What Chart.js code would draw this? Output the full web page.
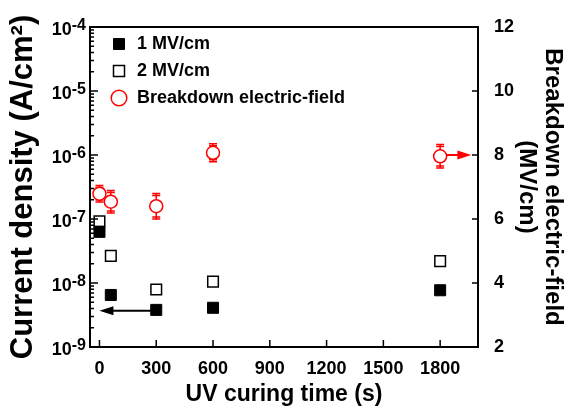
<!DOCTYPE html>
<html>
<head>
<meta charset="utf-8">
<script src="https://cdn.jsdelivr.net/npm/chart.js@4/dist/chart.umd.min.js"></script>
<style>
html, body { margin: 0; padding: 0; background: #fff; }
#wrap { width: 569px; height: 412px; }
</style>
</head>
<body>
<div id="wrap"><canvas id="myChart"></canvas></div>
<script>
// UV curing time (s)
const cureTime = [0, 60, 300, 600, 1800];
// leakage current density (A/cm2) at two fields
const j1MV = [6.3e-8, 6.5e-9, 3.8e-9, 4.1e-9, 7.7e-9];
const j2MV = [9.2e-8, 2.65e-8, 7.9e-9, 1.05e-8, 2.2e-8];
// breakdown field (MV/cm) and its spread
const bdField = [6.79, 6.54, 6.40, 8.07, 7.96];
const bdErr = [0.26, 0.35, 0.40, 0.28, 0.37];

// tick labels
const timeTicks = [0, 300, 600, 900, 1200, 1500, 1800];
const jExponents = [-9, -8, -7, -6, -5, -4];
const fieldTicks = [2, 4, 6, 8, 10, 12];

// arrows pointing each series to its axis
const arrows = [
  {axis: 'y', y: 3.7e-9, from: 300, to: 0, color: '#000'},
  {axis: 'y2', y: 8.0, from: 1800, to: 1965, color: '#ff0000'}
];

const FONT = '"Liberation Sans", Arial, sans-serif';
Chart.defaults.font.family = FONT;
Chart.defaults.color = '#000';

function pts(ys) {
  return cureTime.map((t, i) => ({x: t, y: ys[i]}));
}

function drawArrow(ctx, x0, x1, y, color) {
  const dir = x1 > x0 ? 1 : -1;
  ctx.strokeStyle = color;
  ctx.fillStyle = color;
  ctx.lineWidth = 2;
  ctx.beginPath();
  ctx.moveTo(x0, y);
  ctx.lineTo(x1 - dir * 10, y);
  ctx.stroke();
  ctx.beginPath();
  ctx.moveTo(x1, y);
  ctx.lineTo(x1 - dir * 14, y - 4.5);
  ctx.lineTo(x1 - dir * 14, y + 4.5);
  ctx.closePath();
  ctx.fill();
}

const axisPlugin = {
  id: 'axisFrame',
  afterLayout(chart) {
    // move the in-plot legend inside the frame
    chart.legend.left += 11;
    chart.legend.top += 26;
  },
  beforeDatasetsDraw(chart) {
    const {ctx, scales} = chart;
    ctx.save();
    // error bars of breakdown field
    ctx.strokeStyle = '#ff0000';
    ctx.lineWidth = 1.5;
    cureTime.forEach((t, i) => {
      const x = scales.x.getPixelForValue(t);
      const yt = scales.y2.getPixelForValue(bdField[i] + bdErr[i]);
      const yb = scales.y2.getPixelForValue(bdField[i] - bdErr[i]);
      ctx.beginPath();
      ctx.moveTo(x, yt); ctx.lineTo(x, yb);
      ctx.moveTo(x - 4, yt); ctx.lineTo(x + 4, yt);
      ctx.moveTo(x - 4, yt + 2); ctx.lineTo(x + 4, yt + 2);
      ctx.moveTo(x - 4, yb); ctx.lineTo(x + 4, yb);
      ctx.moveTo(x - 4, yb - 2); ctx.lineTo(x + 4, yb - 2);
      ctx.stroke();
    });
    arrows.forEach(a => {
      const y = scales[a.axis].getPixelForValue(a.y);
      drawArrow(ctx, scales.x.getPixelForValue(a.from), scales.x.getPixelForValue(a.to), y, a.color);
    });
    ctx.restore();
  },
  afterDraw(chart) {
    const {ctx, chartArea: ca, scales} = chart;
    ctx.save();
    ctx.strokeStyle = '#000';
    ctx.lineWidth = 2;
    ctx.strokeRect(ca.left, ca.top, ca.right - ca.left, ca.bottom - ca.top);

    ctx.lineWidth = 1.5;
    ctx.beginPath();
    // x ticks, inward
    timeTicks.forEach(v => {
      const x = scales.x.getPixelForValue(v);
      ctx.moveTo(x, ca.bottom); ctx.lineTo(x, ca.bottom - 7);
    });
    // right ticks, inward
    fieldTicks.forEach(v => {
      const y = scales.y2.getPixelForValue(v);
      ctx.moveTo(ca.right, y); ctx.lineTo(ca.right - 6, y);
    });
    // log ticks, major + minor
    jExponents.forEach(e => {
      const y = scales.y.getPixelForValue(Math.pow(10, e));
      ctx.moveTo(ca.left, y); ctx.lineTo(ca.left + 8, y);
      if (e < -4) {
        for (let m = 2; m <= 9; m++) {
          const ym = scales.y.getPixelForValue(m * Math.pow(10, e));
          ctx.moveTo(ca.left, ym); ctx.lineTo(ca.left + 4, ym);
        }
      }
    });
    ctx.stroke();

    // 10^n labels on the log axis
    ctx.fillStyle = '#000';
    ctx.textBaseline = 'alphabetic';
    ctx.textAlign = 'left';
    jExponents.forEach(e => {
      const y = scales.y.getPixelForValue(Math.pow(10, e));
      const sup = String(e);
      ctx.font = 'bold 18px ' + FONT;
      const wb = ctx.measureText('10').width;
      ctx.font = 'bold 16px ' + FONT;
      const ws = ctx.measureText(sup).width;
      const x0 = ca.left - 4 - wb - ws;
      ctx.font = 'bold 18px ' + FONT;
      ctx.fillText('10', x0, y + 8);
      ctx.font = 'bold 16px ' + FONT;
      ctx.fillText(sup, x0 + wb, y + 3);
    });
    ctx.restore();
  }
};

const ctx = document.getElementById('myChart').getContext('2d');
const chart = new Chart(ctx, {
  type: 'scatter',
  data: {
    datasets: [{
      label: '1 MV/cm',
      data: pts(j1MV),
      yAxisID: 'y',
      pointStyle: 'rect',
      pointRadius: 7.8,
      backgroundColor: '#000',
      borderColor: '#000',
      borderWidth: 1
    }, {
      label: '2 MV/cm',
      data: pts(j2MV),
      yAxisID: 'y',
      pointStyle: 'rect',
      pointRadius: 7.5,
      backgroundColor: '#fff',
      borderColor: '#000',
      borderWidth: 1.5
    }, {
      label: 'Breakdown electric-field',
      data: pts(bdField),
      yAxisID: 'y2',
      pointStyle: 'circle',
      pointRadius: 6.5,
      backgroundColor: '#fff',
      borderColor: '#ff0000',
      borderWidth: 1.5
    }]
  },
  options: {
    responsive: true,
    maintainAspectRatio: false,
    animation: false,
    layout: {padding: {top: 27}},
    plugins: {
      legend: {
        position: 'chartArea',
        align: 'start',
        labels: {
          usePointStyle: true,
          boxHeight: 11,
          padding: 9,
          color: '#000',
          font: {size: 18, weight: 'bold'}
        }
      },
      tooltip: {enabled: false}
    },
    scales: {
      x: {
        type: 'linear',
        min: -50,
        max: 2000,
        grid: {display: false},
        border: {display: false},
        afterBuildTicks: s => { s.ticks = timeTicks.map(v => ({value: v})); },
        afterFit: s => { s.height = 65; },
        ticks: {
          padding: 3,
          maxRotation: 0,
          autoSkip: false,
          color: '#000',
          font: {size: 18, weight: 'bold'},
          callback: v => String(v)
        },
        title: {
          display: true,
          text: 'UV curing time (s)',
          color: '#000',
          padding: {top: 0, bottom: 4},
          font: {size: 23, weight: 'bold', lineHeight: 1.2}
        }
      },
      y: {
        type: 'logarithmic',
        position: 'left',
        min: 1e-9,
        max: 1e-4,
        grid: {display: false},
        border: {display: false},
        ticks: {display: false},
        afterFit: s => { s.width = 90; },
        title: {
          display: true,
          text: 'Current density (A/cm\u00B2)',
          color: '#000',
          padding: {top: 5, bottom: 0},
          font: {size: 31, weight: 'bold', lineHeight: 1.2}
        }
      },
      y2: {
        type: 'linear',
        position: 'right',
        min: 2,
        max: 12,
        grid: {display: false},
        border: {display: false},
        afterBuildTicks: s => { s.ticks = fieldTicks.map(v => ({value: v})); },
        afterFit: s => { s.width = 91; },
        ticks: {
          padding: 8,
          color: '#000',
          font: {size: 18, weight: 'bold'}
        },
        title: {
          display: true,
          text: ['Breakdown electric-field', '(MV/cm)'],
          color: '#000',
          padding: {top: 3, bottom: 0},
          font: {size: 24, weight: 'bold', lineHeight: 1.1}
        }
      }
    }
  },
  plugins: [axisPlugin]
});
</script>
</body>
</html>
